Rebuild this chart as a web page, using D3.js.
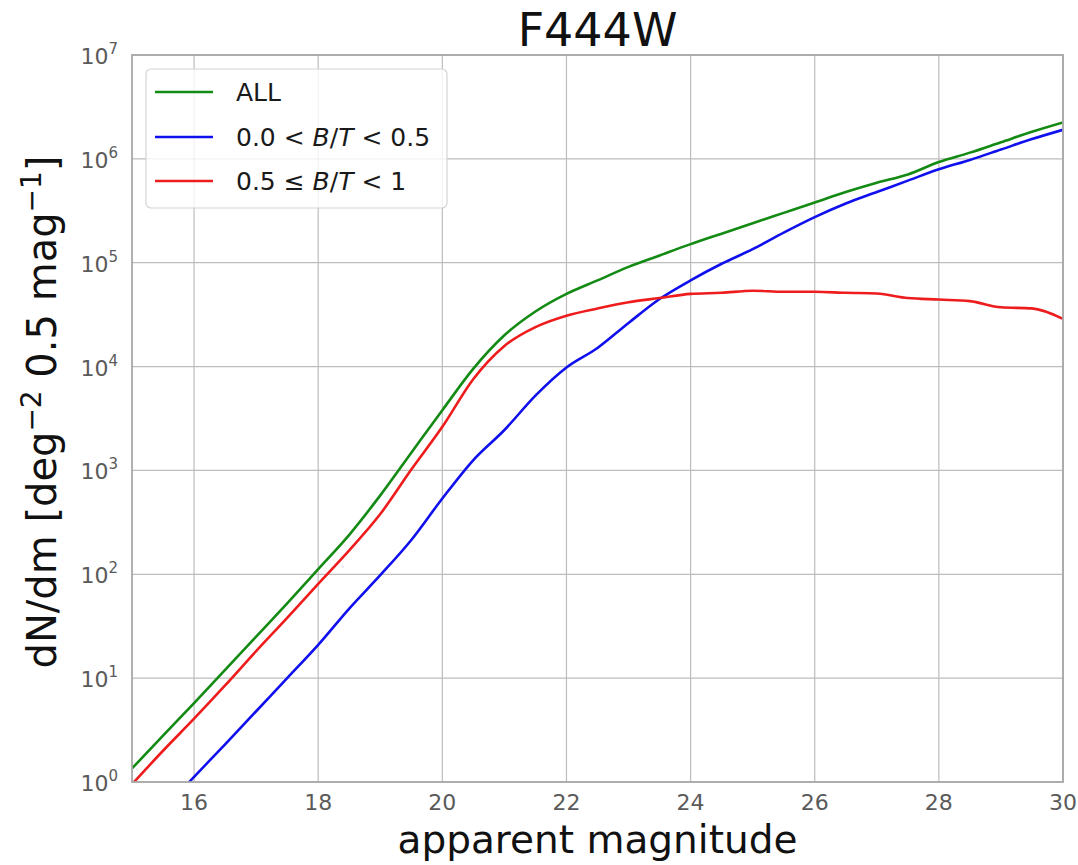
<!DOCTYPE html>
<html>
<head>
<meta charset="utf-8">
<script src="https://cdn.jsdelivr.net/npm/d3@7"></script>
<style>
  html, body { margin: 0; padding: 0; background: #fff; }
  svg { display: block; font-family: "DejaVu Sans", sans-serif; }
</style>
</head>
<body>
<svg id="chart" width="1078" height="865"></svg>
<script>
// Magnitude bins (0.5 mag steps)
const magnitudes = [15.0, 15.5, 16.0, 16.5, 17.0, 17.5, 18.0, 18.5, 19.0, 19.5,
                    20.0, 20.5, 21.0, 21.5, 22.0, 22.5, 23.0, 23.5, 24.0, 24.5,
                    25.0, 25.5, 26.0, 26.5, 27.0, 27.5, 28.0, 28.5, 29.0, 29.5, 30.0];

// dN/dm [deg^-2 0.5 mag^-1]
const countsAll = [1.35, 2.8, 5.75, 12.0, 25.1, 52.5, 112, 240, 575, 1480,
                   3800, 9550, 20000, 33900, 50100, 67600, 91200, 117500, 151000, 190500,
                   240000, 302000, 380000, 479000, 589000, 708000, 933000, 1148000, 1445000, 1820000, 2240000];

const countsDisk = [null, 0.54, 1.12, 2.3, 4.8, 10.0, 20.9, 46.8, 98, 214,
                    537, 1260, 2450, 5250, 9800, 15100, 26300, 44700, 67600, 97700,
                    135000, 195000, 275000, 372000, 479000, 617000, 794000, 977000, 1230000, 1550000, 1905000];

const countsBulge = [0.95, 2.0, 4.07, 8.5, 18.2, 38, 81, 170, 380, 1020,
                     2630, 7600, 15800, 24000, 30900, 36300, 41700, 45700, 50100, 51300,
                     53700, 52500, 52500, 51300, 50500, 45700, 44200, 42700, 37200, 36300, 28800];

const xTicks = [16, 18, 20, 22, 24, 26, 28, 30];
const yTickExponents = [0, 1, 2, 3, 4, 5, 6, 7];

const seriesList = [
  { name: "ALL", values: countsAll, color: "#138a13" },
  { name: "disk", values: countsDisk, color: "#1010ee" },
  { name: "bulge", values: countsBulge, color: "#ee1c1c" }
];

const svg = d3.select("#chart");
const plot = { left: 132, right: 1063, top: 55, bottom: 782 };

const x = d3.scaleLinear().domain([15, 30]).range([plot.left, plot.right]);
const y = d3.scaleLog().domain([1, 1e7]).range([plot.bottom, plot.top]);

// Grid
const grid = svg.append("g");
grid.selectAll("line.vx").data(xTicks).join("line")
  .attr("x1", d => x(d)).attr("x2", d => x(d))
  .attr("y1", plot.top).attr("y2", plot.bottom)
  .attr("stroke", "#bdbdbd").attr("stroke-width", 1.2);
grid.selectAll("line.hy").data(yTickExponents).join("line")
  .attr("x1", plot.left).attr("x2", plot.right)
  .attr("y1", d => y(Math.pow(10, d))).attr("y2", d => y(Math.pow(10, d)))
  .attr("stroke", "#bdbdbd").attr("stroke-width", 1.2);

// Clip for the curves
svg.append("clipPath").attr("id", "plotClip")
  .append("rect")
  .attr("x", plot.left).attr("y", plot.top)
  .attr("width", plot.right - plot.left).attr("height", plot.bottom - plot.top);

const line = d3.line()
  .defined(d => d[1] != null)
  .x(d => x(d[0]))
  .y(d => y(d[1]))
  .curve(d3.curveMonotoneX);

const curves = svg.append("g").attr("clip-path", "url(#plotClip)");
seriesList.forEach(s => {
  curves.append("path")
    .datum(magnitudes.map((m, i) => [m, s.values[i]]))
    .attr("fill", "none")
    .attr("stroke", s.color)
    .attr("stroke-width", 2.6)
    .attr("stroke-linejoin", "round")
    .attr("d", line);
});

// Frame
svg.append("rect")
  .attr("x", plot.left).attr("y", plot.top)
  .attr("width", plot.right - plot.left).attr("height", plot.bottom - plot.top)
  .attr("fill", "none").attr("stroke", "#a8a8a8").attr("stroke-width", 1.8);

// X tick labels
svg.append("g").selectAll("text").data(xTicks).join("text")
  .attr("x", d => x(d)).attr("y", 810)
  .attr("text-anchor", "middle")
  .attr("font-size", 22).attr("fill", "#5a5a5a")
  .text(d => d);

// Y tick labels (10^n)
const yLab = svg.append("g").selectAll("text").data(yTickExponents).join("text")
  .attr("x", 118).attr("y", d => y(Math.pow(10, d)) + 9)
  .attr("text-anchor", "end")
  .attr("font-size", 22).attr("fill", "#5a5a5a");
yLab.append("tspan").text("10");
yLab.append("tspan").attr("font-size", 15).attr("dy", -10).text(d => d);

// Title
svg.append("text")
  .attr("x", (plot.left + plot.right) / 2).attr("y", 46)
  .attr("text-anchor", "middle").attr("font-size", 46).attr("fill", "#111")
  .text("F444W");

// Axis labels
svg.append("text")
  .attr("x", (plot.left + plot.right) / 2).attr("y", 853)
  .attr("text-anchor", "middle").attr("font-size", 39).attr("fill", "#111")
  .text("apparent magnitude");

const yTitle = svg.append("text")
  .attr("transform", "translate(56,412) rotate(-90)")
  .attr("text-anchor", "middle").attr("font-size", 40).attr("fill", "#111");
yTitle.append("tspan").text("dN/dm [deg");
yTitle.append("tspan").attr("font-size", 28).attr("dy", -15).text("\u22122");
yTitle.append("tspan").attr("dy", 15).text(" 0.5 mag");
yTitle.append("tspan").attr("font-size", 28).attr("dy", -15).text("\u22121");
yTitle.append("tspan").attr("dy", 15).text("]");

// Legend
const legend = svg.append("g");
legend.append("rect")
  .attr("x", 146).attr("y", 69).attr("width", 301).attr("height", 139)
  .attr("rx", 5).attr("ry", 5)
  .attr("fill", "#ffffff").attr("fill-opacity", 0.8)
  .attr("stroke", "#d4d4d4").attr("stroke-width", 1.2);

const legendRows = [
  { color: seriesList[0].color, parts: [["ALL", false]] },
  { color: seriesList[1].color, parts: [["0.0 < ", false], ["B", true], ["/", false], ["T", true], [" < 0.5", false]] },
  { color: seriesList[2].color, parts: [["0.5 \u2264 ", false], ["B", true], ["/", false], ["T", true], [" < 1", false]] }
];
const rowY = [92, 137, 181];
legendRows.forEach((r, i) => {
  legend.append("line")
    .attr("x1", 155).attr("x2", 213)
    .attr("y1", rowY[i]).attr("y2", rowY[i])
    .attr("stroke", r.color).attr("stroke-width", 2.6);
  const t = legend.append("text")
    .attr("x", 236).attr("y", rowY[i] + 9)
    .attr("font-size", 25).attr("fill", "#1a1a1a")
    .attr("xml:space", "preserve");
  r.parts.forEach(p => {
    t.append("tspan").attr("font-style", p[1] ? "italic" : "normal").text(p[0]);
  });
});
</script>
</body>
</html>
